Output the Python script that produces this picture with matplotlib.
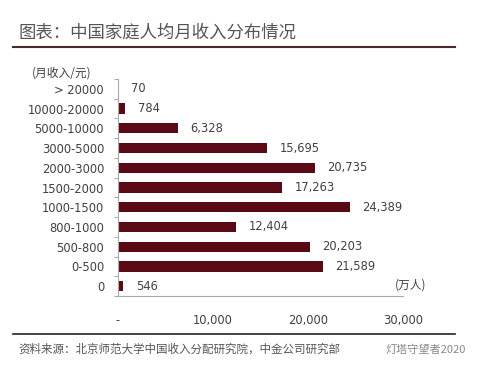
import numpy as np
import matplotlib
matplotlib.use("Agg")
import matplotlib.pyplot as plt

plt.rcParams['font.family'] = ['Noto Sans CJK SC', 'DejaVu Sans']

# data (bottom to top)
categories = ['0', '0-500', '500-800', '800-1000', '1000-1500', '1500-2000',
              '2000-3000', '3000-5000', '5000-10000', '10000-20000', '> 20000']
values = [546, 21589, 20203, 12404, 24389, 17263, 20735, 15695, 6328, 784, 70]
xticks = [0, 10000, 20000, 30000]
xticklabels = ['-', '10,000', '20,000', '30,000']

bar_color = '#5a0a14'
text_gray = '#404040'

fig = plt.figure(figsize=(4.78, 3.71), dpi=100)
ax = fig.add_axes([118/478, 1 - 296/371, (403 - 118)/478, (296 - 79)/371])

y = np.arange(len(categories))
ax.barh(y, values, height=0.52, color=bar_color)
for yi, v in zip(y, values):
    ax.annotate(f'{v:,}', (v, yi), xytext=(9, 0), textcoords='offset points',
                va='center', ha='left', fontsize=8.3, color=text_gray,
                family=['DejaVu Sans'])

ax.set_xlim(0, 30000)
ax.set_ylim(-0.5, len(categories) - 0.5)
ax.set_yticks(y)
ax.set_yticklabels(categories, fontsize=8.3, color=text_gray, family=['DejaVu Sans'])
ax.set_yticks(np.arange(len(categories) + 1) - 0.5, minor=True)
ax.tick_params(axis='y', which='major', length=0, pad=10)
ax.tick_params(axis='y', which='minor', length=3, color='#999999', direction='out')
ax.set_xticks(xticks)
ax.set_xticklabels(xticklabels, fontsize=8.3, color=text_gray, family=['DejaVu Sans'])
ax.tick_params(axis='x', length=0, pad=13)

for s in ['top', 'right']:
    ax.spines[s].set_visible(False)
for s in ['left', 'bottom']:
    ax.spines[s].set_color('#aaaaaa')
    ax.spines[s].set_linewidth(0.8)

fig.text(18/478, 1 - 33/371, '图表：中国家庭人均月收入分布情况', fontsize=12.5,
         color='#555555', va='center', ha='left')
fig.add_artist(plt.Line2D([13/478, 455/478], [1 - 47/371, 1 - 47/371],
                          color='#4a2a2a', linewidth=1.5))
fig.text(62/478, 1 - 73/371, '(月收入/元)', fontsize=8.5, color=text_gray,
         va='center', ha='center')
fig.text(411/478, 1 - 285/371, '(万人)', fontsize=8.5, color=text_gray,
         va='center', ha='center')
fig.add_artist(plt.Line2D([13/478, 455/478], [1 - 334/371, 1 - 334/371],
                          color='#222222', linewidth=1.2))
fig.text(18/478, 1 - 349/371, '资料来源：北京师范大学中国收入分配研究院，中金公司研究部',
         fontsize=8.3, color='#555555', va='center', ha='left')
fig.text(466/478, 1 - 350/371, '灯塔守望者2020', fontsize=8, color='#888888',
         va='center', ha='right',
         bbox=dict(boxstyle='square,pad=0.1', fc='white', ec='none', alpha=0.85))

fig.savefig('out.png', dpi=100)
